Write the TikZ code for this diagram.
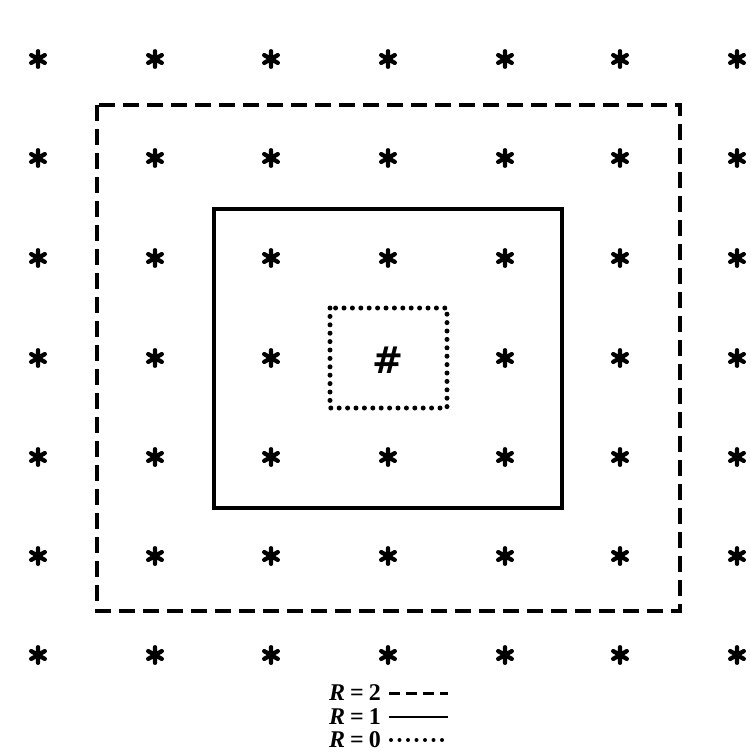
\documentclass[tikz,border=0pt]{standalone}
\usepackage{fontspec}
\setmainfont{Liberation Serif}
\newfontfamily\hashfont{DejaVu Sans}
\begin{document}
\begin{tikzpicture}[x=1pt,y=-1pt,
  astk/.pic={\draw[line width=4.3pt,line cap=round] (0,-7.8)--(0,7.8) (-6.8,-3.9)--(6.8,3.9) (-6.8,3.9)--(6.8,-3.9);},
  dashbox/.style={line width=3.4pt,dash pattern=on 16pt off 8pt},
  solidbox/.style={line width=3.6pt},
  dotbox/.style={line width=5pt,line cap=round,dash pattern=on 0pt off 8.4pt},
  legtext/.style={anchor=east,inner sep=0pt,font=\fontsize{24}{26}\selectfont\bfseries}
]
\useasboundingbox (0,0) rectangle (751,756);
% grid of asterisks
\foreach \x in {38,155,271,388,505,620,737}
  \foreach \y in {59,158,258,358,457,556,655}
    {\ifnum\x=388 \ifnum\y=358 \else \pic at (\x,\y) {astk}; \fi \else \pic at (\x,\y) {astk}; \fi}
% centre
\node[inner sep=0pt,font=\hashfont\fontsize{37}{39}\selectfont\bfseries] (hash) at (388,360) {\#};
% rectangles
\draw[dashbox] (97,105) rectangle (680,611);
\draw[solidbox] (214,209) rectangle (562,508);
\draw[dotbox] (330,308) rectangle (447,408);
% legend
\node[legtext] (l2) at (381,693) {\textit{R}\kern5pt=\kern5pt2};
\node[legtext] (l1) at (381,717) {\textit{R}\kern5pt=\kern5pt1};
\node[legtext] (l0) at (381,740) {\textit{R}\kern5pt=\kern5pt0};
\coordinate (e2) at (448,693);
\coordinate (e1) at (448,717);
\coordinate (e0) at (446,740);
\draw[line width=3pt,dash pattern=on 11pt off 6pt] ([xshift=8pt]l2.east) -- (e2);
\draw[line width=2.6pt] ([xshift=8pt]l1.east) -- (e1);
\draw[line width=4pt,line cap=round,dash pattern=on 0pt off 8.5pt] ([xshift=10pt]l0.east) -- (e0);
\end{tikzpicture}
\end{document}
